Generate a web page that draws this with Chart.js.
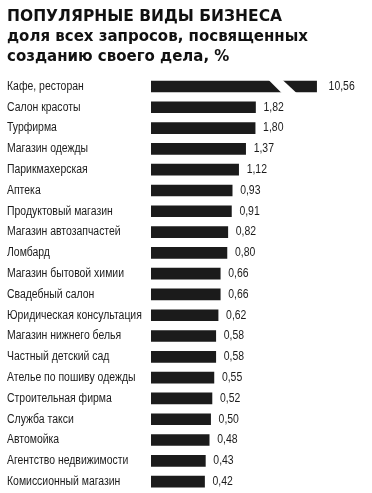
<!DOCTYPE html>
<html>
<head>
    <title>Популярные виды бизнеса</title>
    <script src="https://cdn.jsdelivr.net/npm/chart.js"></script>
    <style>
        body { margin: 0; background: #fff; }
        #wrap { width: 372px; height: 493px; position: relative; }
    </style>
</head>
<body>
    <div id="wrap"><canvas id="bizChart"></canvas></div>

    <script>
        // Data
        const businessTypes = [
            'Кафе, ресторан', 'Салон красоты', 'Турфирма', 'Магазин одежды',
            'Парикмахерская', 'Аптека', 'Продуктовый магазин', 'Магазин автозапчастей',
            'Ломбард', 'Магазин бытовой химии', 'Свадебный салон', 'Юридическая консультация',
            'Магазин нижнего белья', 'Частный детский сад', 'Ателье по пошиву одежды',
            'Строительная фирма', 'Служба такси', 'Автомойка', 'Агентство недвижимости',
            'Комиссионный магазин'
        ];
        const sharePercent = [
            10.56, 1.82, 1.80, 1.37,
            1.12, 0.93, 0.91, 0.82,
            0.80, 0.66, 0.66, 0.62,
            0.58, 0.58, 0.55,
            0.52, 0.50, 0.48, 0.43,
            0.42
        ];

        const ink = '#1b1b1b';
        const labelFont = "12px 'Liberation Sans', Arial, sans-serif";
        const squeeze = 0.87; // the original uses a narrow face

        const fmt = v => v.toFixed(2).replace('.', ',');

        function narrowText(ctx, text, x, y) {
            ctx.save();
            ctx.translate(x, y);
            ctx.scale(squeeze, 1);
            ctx.fillText(text, 0, 0);
            ctx.restore();
        }

        // category names (left aligned) and values after each bar
        const textLabels = {
            id: 'textLabels',
            afterDatasetsDraw(chart) {
                const ctx = chart.ctx;
                const meta = chart.getDatasetMeta(0);
                const yScale = chart.scales.y;
                ctx.save();
                ctx.font = labelFont;
                ctx.fillStyle = ink;
                ctx.textBaseline = 'middle';
                ctx.textAlign = 'left';
                businessTypes.forEach((name, i) => {
                    narrowText(ctx, name, 7, yScale.getPixelForTick(i));
                });
                meta.data.forEach((bar, i) => {
                    const gap = i === 0 ? 12 : 8;
                    narrowText(ctx, fmt(sharePercent[i]), bar.x + gap, bar.y);
                });
                ctx.restore();
            }
        };

        // white slanted cut through the long first bar
        const barBreak = {
            id: 'barBreak',
            afterDatasetsDraw(chart) {
                const bar = chart.getDatasetMeta(0).data[0];
                const ctx = chart.ctx;
                const top = bar.y - bar.height / 2 - 1;
                const bottom = bar.y + bar.height / 2 + 1;
                const e = bar.x;
                ctx.save();
                ctx.fillStyle = '#fff';
                ctx.beginPath();
                ctx.moveTo(e - 48, top);
                ctx.lineTo(e - 34, top);
                ctx.lineTo(e - 20, bottom);
                ctx.lineTo(e - 35, bottom);
                ctx.closePath();
                ctx.fill();
                ctx.restore();
            }
        };

        const ctx = document.getElementById('bizChart').getContext('2d');
        const chart = new Chart(ctx, {
            type: 'bar',
            data: {
                labels: businessTypes,
                datasets: [{
                    data: sharePercent,
                    backgroundColor: ink,
                    borderWidth: 0,
                    barThickness: 11
                }]
            },
            options: {
                indexAxis: 'y',
                responsive: true,
                maintainAspectRatio: false,
                animation: false,
                layout: { padding: { left: 7, right: 7, top: 0, bottom: 1 } },
                plugins: {
                    legend: { display: false },
                    tooltip: { enabled: false },
                    title: {
                        display: true,
                        align: 'start',
                        text: 'ПОПУЛЯРНЫЕ ВИДЫ БИЗНЕСА',
                        color: '#111',
                        font: { family: "'DejaVu Sans', sans-serif", size: 15.5, weight: 'bold', lineHeight: 1.2 },
                        padding: { top: 8, bottom: 1 }
                    },
                    subtitle: {
                        display: true,
                        align: 'start',
                        text: ['доля всех запросов, посвященных', 'созданию своего дела, %'],
                        color: '#111',
                        font: { family: "'DejaVu Sans', sans-serif", size: 15, weight: 'bold', lineHeight: 20 / 15 },
                        padding: { top: 0, bottom: 8.5 }
                    }
                },
                scales: {
                    x: {
                        type: 'logarithmic',
                        display: false,
                        min: 0.09,
                        max: 42.5
                    },
                    y: {
                        grid: { display: false },
                        border: { display: false },
                        ticks: { display: false },
                        afterFit(scale) { scale.width = 144; }
                    }
                }
            },
            plugins: [textLabels, barBreak]
        });
    </script>
</body>
</html>
